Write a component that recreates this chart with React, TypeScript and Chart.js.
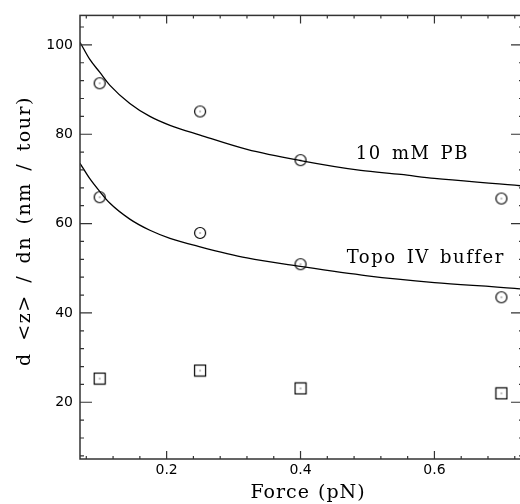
import { useEffect, useRef } from 'react';
import { Chart, registerables } from 'chart.js';

Chart.register(...registerables);

// Measured points
const forceValues = [0.1, 0.25, 0.4, 0.7];
const pbMeasured = [91.4, 85.1, 74.2, 65.6];
const topoMeasured = [65.9, 57.9, 50.9, 43.5];
const squareMeasured = [25.3, 27.1, 23.1, 22.0];

// Fitted curves
const pbFitForce = [0.0706, 0.085, 0.1, 0.115, 0.145, 0.175, 0.205, 0.25, 0.32, 0.4, 0.49, 0.55, 0.6, 0.72, 0.7323];
const pbFitValues = [100.6, 96.8, 93.9, 91.0, 86.9, 84.0, 82.0, 79.8, 76.6, 74.1, 71.9, 71.0, 70.1, 68.6, 68.4];
const topoFitForce = [0.0706, 0.085, 0.1, 0.115, 0.145, 0.175, 0.205, 0.25, 0.32, 0.4, 0.5, 0.6, 0.72, 0.7323];
const topoFitValues = [73.5, 70.1, 67.2, 64.6, 61.0, 58.5, 56.7, 54.8, 52.3, 50.4, 48.3, 46.8, 45.5, 45.3];

// Axes
const xMin = 0.0706;
const xMax = 0.7323;
const yMin = 7.3;
const yMax = 106.6;
const xMajorTicks = [0.2, 0.4, 0.6];
const xMinorTicks = [0.08, 0.12, 0.16, 0.24, 0.28, 0.32, 0.36, 0.44, 0.48, 0.52, 0.56, 0.64, 0.68, 0.72];
const yMajorTicks = [20, 40, 60, 80, 100];
const yMinorTicks = [8, 12, 16, 24, 28, 32, 36, 44, 48, 52, 56, 64, 68, 72, 76, 84, 88, 92, 96, 104];

const xTitle = 'Force (pN)';
const yTitle = 'd <z> / dn (nm / tour)';
const curveLabels = ['10 mM PB', 'Topo IV buffer'];

const SERIF = '"DejaVu Serif", serif';
const SANS = '"DejaVu Sans", sans-serif';

function makeMarker(kind: 'circle' | 'square'): HTMLCanvasElement {
  const c = document.createElement('canvas');
  c.width = 14;
  c.height = 14;
  const ctx = c.getContext('2d')!;
  ctx.strokeStyle = '#000';
  ctx.lineWidth = 1.2;
  if (kind === 'circle') {
    ctx.beginPath();
    ctx.arc(7, 7, 5.5, 0, Math.PI * 2);
    ctx.stroke();
  } else {
    ctx.strokeRect(1.5, 1.5, 11, 11);
  }
  ctx.fillStyle = '#000';
  ctx.fillRect(6.5, 6.5, 1, 1);
  return c;
}

const framePlugin = {
  id: 'frameTicks',
  afterDatasetsDraw(chart: any) {
    const { ctx, chartArea } = chart;
    const xs = chart.scales.x;
    const ys = chart.scales.y;
    const { left, right, top, bottom } = chartArea;
    ctx.save();
    ctx.strokeStyle = '#333';
    ctx.lineWidth = 1.5;
    ctx.strokeRect(left, top, right - left, bottom - top);
    ctx.lineWidth = 1.2;
    ctx.beginPath();
    const xt = (vals: number[], len: number) => {
      vals.forEach((v) => {
        const p = xs.getPixelForValue(v);
        ctx.moveTo(p, bottom);
        ctx.lineTo(p, bottom - len);
        ctx.moveTo(p, top);
        ctx.lineTo(p, top + len);
      });
    };
    const yt = (vals: number[], len: number) => {
      vals.forEach((v) => {
        const p = ys.getPixelForValue(v);
        ctx.moveTo(left, p);
        ctx.lineTo(left + len, p);
        ctx.moveTo(right, p);
        ctx.lineTo(right - len, p);
      });
    };
    xt(xMajorTicks, 8);
    xt(xMinorTicks, 3);
    yt(yMajorTicks, 12);
    yt(yMinorTicks, 4);
    ctx.stroke();

    ctx.fillStyle = '#000';
    // curve labels
    ctx.font = '18px ' + SERIF;
    (ctx as any).letterSpacing = '1.5px';
    (ctx as any).wordSpacing = '3px';
    ctx.textBaseline = 'middle';
    ctx.textAlign = 'left';
    ctx.fillText(curveLabels[0], xs.getPixelForValue(0.4825), ys.getPixelForValue(75.4));
    ctx.fillText(curveLabels[1], xs.getPixelForValue(0.469), ys.getPixelForValue(52.2));

    // axis titles
    ctx.font = '19px ' + SERIF;
    ctx.textAlign = 'center';
    (ctx as any).letterSpacing = '1px';
    (ctx as any).wordSpacing = '1px';
    ctx.fillText(xTitle, 308, 493);

    (ctx as any).letterSpacing = '1.5px';
    (ctx as any).wordSpacing = '4px';
    ctx.translate(25, 231);
    ctx.rotate(-Math.PI / 2);
    ctx.fillText(yTitle, 0, 0);
    ctx.restore();
  },
};

export default function App() {
  const ref = useRef<HTMLCanvasElement | null>(null);
  useEffect(() => {
    document.body.style.margin = '0';
    const canvas = ref.current!;
    const circle = makeMarker('circle');
    const square = makeMarker('square');
    const pts = (xs: number[], ys: number[]) => xs.map((x, i) => ({ x, y: ys[i] }));
    const chart = new Chart(canvas, {
      type: 'scatter',
      data: {
        datasets: [
          {
            type: 'line',
            data: pts(pbFitForce, pbFitValues),
            borderColor: '#000',
            borderWidth: 1.3,
            pointRadius: 0,
            cubicInterpolationMode: 'monotone',
            fill: false,
          },
          {
            type: 'line',
            data: pts(topoFitForce, topoFitValues),
            borderColor: '#000',
            borderWidth: 1.3,
            pointRadius: 0,
            cubicInterpolationMode: 'monotone',
            fill: false,
          },
          { data: pts(forceValues, pbMeasured), pointStyle: circle as any, pointRadius: 6, showLine: false },
          { data: pts(forceValues, topoMeasured), pointStyle: circle as any, pointRadius: 6, showLine: false },
          { data: pts(forceValues, squareMeasured), pointStyle: square as any, pointRadius: 6, showLine: false },
        ] as any,
      },
      options: {
        animation: false,
        responsive: false,
        layout: { padding: { top: 13, right: 5, left: 0, bottom: 0 } },
        plugins: { legend: { display: false }, tooltip: { enabled: false } },
        scales: {
          x: {
            type: 'linear',
            min: xMin,
            max: xMax,
            grid: { display: false, drawTicks: false },
            border: { display: false },
            afterBuildTicks: (s: any) => {
              s.ticks = xMajorTicks.map((v) => ({ value: v }));
            },
            afterFit: (s: any) => {
              s.height = 45;
            },
            ticks: {
              padding: 3,
              color: '#000',
              font: { family: SANS, size: 14 },
              callback: (v: any) => String(Number(v).toFixed(1)),
            },
            title: { display: false },
          },
          y: {
            type: 'linear',
            min: yMin,
            max: yMax,
            grid: { display: false, drawTicks: false },
            border: { display: false },
            afterBuildTicks: (s: any) => {
              s.ticks = yMajorTicks.map((v) => ({ value: v }));
            },
            afterFit: (s: any) => {
              s.width = 80;
            },
            ticks: {
              padding: 7,
              color: '#000',
              font: { family: SANS, size: 14 },
              callback: (v: any) => String(v),
            },
            title: { display: false },
          },
        },
      } as any,
      plugins: [framePlugin],
    });
    return () => chart.destroy();
  }, []);
  return (
    <div style={{ width: 520, height: 504, overflow: 'hidden', background: '#fff' }}>
      <canvas ref={ref} width={530} height={504} style={{ display: 'block' }} />
    </div>
  );
}
